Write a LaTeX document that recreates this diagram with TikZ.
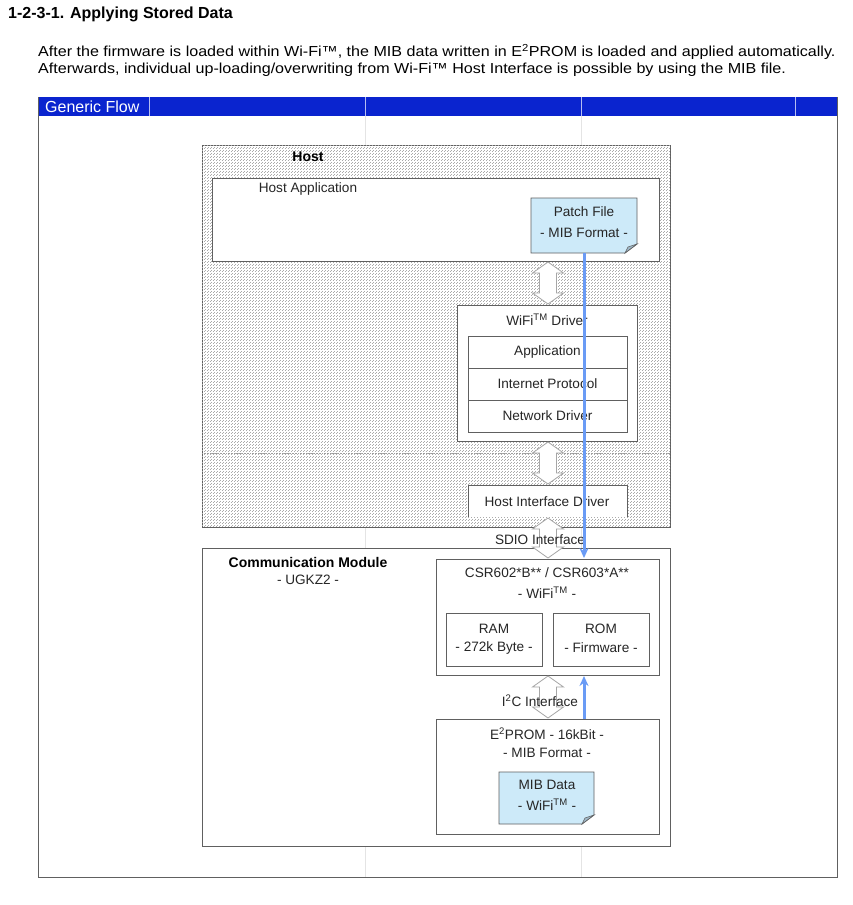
\documentclass[tikz,border=0pt]{standalone}
\usepackage{fontspec}
\setmainfont{Liberation Sans}
\newfontfamily\parafont{Liberation Sans}[FakeStretch=1.11]
\usetikzlibrary{patterns,fit,arrows.meta}
\definecolor{bord}{HTML}{606060}
\definecolor{barblue}{HTML}{0A24CF}
\definecolor{flow}{HTML}{6A9BF5}
\definecolor{note}{HTML}{CDEAF9}
\definecolor{notefold}{HTML}{9FB8C8}
\definecolor{faint}{HTML}{E4E4E4}
\pgfdeclarepatternformonly{hostdots}{\pgfqpoint{0pt}{0pt}}{\pgfqpoint{3pt}{3pt}}{\pgfqpoint{3pt}{3pt}}{%
  \pgfpathrectangle{\pgfqpoint{0pt}{0pt}}{\pgfqpoint{1pt}{1pt}}%
  \pgfpathrectangle{\pgfqpoint{1.5pt}{1.5pt}}{\pgfqpoint{1pt}{1pt}}%
  \pgfusepath{fill}}
\newcommand\hollowarrow[3]{%
  \pgfmathsetmacro\hL{#3-#2}%
  \draw[harrow, shift={(#1,#2)}] (-8.5,11) -- (-15.5,11) -- (0,0) -- (15.5,11) -- (8.5,11)
    -- (8.5,\hL-11) -- (15.5,\hL-11) -- (0,\hL) -- (-15.5,\hL-11) -- (-8.5,\hL-11) -- cycle;}
\begin{document}
\begin{tikzpicture}[x=1pt,y=-1pt,
  box/.style={draw=bord, line width=0.9pt, fill=white, inner sep=0pt, outer sep=0pt},
  area/.style={inner sep=0pt, outer sep=0pt},
  lbl/.style={font=\fontsize{13.6}{15}\selectfont, inner sep=0pt, text=black!85},
  bold/.style={font=\fontsize{14}{15}\selectfont\bfseries, inner sep=0pt},
  para/.style={font=\parafont\fontsize{14.5}{16}\selectfont, inner sep=0pt, anchor=west},
  harrow/.style={draw=gray!70, fill=white, line width=0.8pt, line join=miter},
  flowarrow/.style={draw=flow, line width=3pt, -{Stealth[length=10pt,width=9pt]}},
  notebox/.style={draw=bord, line width=0.8pt, fill=note},
  foldst/.style={draw=bord, line width=0.6pt, fill=notefold}]
\useasboundingbox (0,0) rectangle (852,905);
\fill[white] (0,0) rectangle (852,905);

% title and paragraph
\node[anchor=west, inner sep=0pt, font=\fontsize{16}{18}\selectfont\bfseries] (title) at (8,14) {1-2-3-1. Applying Stored Data};
\node[para] (p1) at (38,52) {After the firmware is loaded within Wi-Fi™, the MIB data written in E\textsuperscript{2}PROM is loaded and applied automatically.};
\node[para] (p2) at (38,70) {Afterwards, individual up-loading/overwriting from Wi-Fi™ Host Interface is possible by using the MIB file.};

% frame and bar
\node[area, fill=barblue, fit={(38,97) (837,116)}] (bar) {};
\draw[white!70!barblue, line width=0.7pt] (149,97) -- (149,116) (365,97) -- (365,116) (581,97) -- (581,116) (795,97) -- (795,116);
\node[anchor=west, inner sep=0pt, text=white, font=\fontsize{16}{18}\selectfont] (gf) at (45,107) {Generic Flow};
\draw[faint, line width=0.7pt] (365,116) -- (365,877) (581,116) -- (581,877);
\draw[bord, line width=1pt] (bar.north west) -- (38,877) -- (837,877) -- (bar.north east);

% host
\node[box, fit={(202,145) (670,527)}, postaction={pattern=hostdots, pattern color=black!33}] (host) {};
\draw[gray!75, densely dotted, line width=0.6pt] (202,453) -- (670,453);
\node[bold] (hostlbl) at (308,157) {Host};
\node[box, fit={(212,178) (659,261)}] (hostapp) {};
\node[lbl] (hostapplbl) at (308,189) {Host Application};

% patch file
\node[area, fit={(531,198) (637,253)}] (patch) {};
\draw[notebox] (patch.north west) -- (patch.north east) -- ([yshift=9pt]patch.south east) -- ([xshift=-12pt]patch.south east) -- (patch.south west) -- cycle;
\draw[foldst] ([yshift=9pt]patch.south east) -- ([xshift=-12pt]patch.south east) -- ([xshift=-9pt,yshift=6pt]patch.south east) -- cycle;
\node[lbl] (patch1) at (584,212) {Patch File};
\node[lbl] (patch2) at (584,233) {- MIB Format -};

% wifi driver
\node[box, fit={(457,305) (637,441)}] (wifi) {};
\node[lbl] (wifilbl) at (547,320) {WiFi\textsuperscript{TM} Driver};
\node[box, fit={(468,336) (627,368)}] (app) {};
\node[box, fit={(468,368) (627,400)}] (ip) {};
\node[box, fit={(468,400) (627,432)}] (nd) {};
\node[lbl] at (app.center) {Application};
\node[lbl] at (ip.center) {Internet Protocol};
\node[lbl] at (nd.center) {Network Driver};

% host interface driver
\node[area, fit={(468,485) (627,517)}] (hid) {};
\fill[white] (hid.north west) rectangle (hid.south east);
\draw[bord, line width=0.9pt] (hid.south west) -- (hid.north west) -- (hid.north east) -- (hid.south east);
\node[lbl] at (547,502) {Host Interface Driver};

% communication module
\node[box, fit={(202,548) (670,846)}] (comm) {};
\node[bold] (commlbl) at (308,562) {Communication Module};
\node[lbl] (commlbl2) at (308,580) {- UGKZ2 -};

\node[box, fit={(436,559) (659,675)}] (csr) {};
\node[lbl] at (547,573) {CSR602*B** / CSR603*A**};
\node[lbl] at (547,593) {- WiFi\textsuperscript{TM} -};
\node[box, fit={(446,613) (542,666)}] (ram) {};
\node[lbl] at (494,629) {RAM};
\node[lbl] at (494,648) {- 272k Byte -};
\node[box, fit={(553,613) (649,666)}] (rom) {};
\node[lbl] at (601,629) {ROM};
\node[lbl] at (601,648) {- Firmware -};

\node[box, fit={(436,719) (659,834)}] (eeprom) {};
\node[lbl] at (547,734) {E\textsuperscript{2}PROM - 16kBit -};
\node[lbl] at (547,753) {- MIB Format -};

\node[area, fit={(499,772) (594,824)}] (mib) {};
\draw[notebox] (mib.north west) -- (mib.north east) -- ([yshift=9pt]mib.south east) -- ([xshift=-12pt]mib.south east) -- (mib.south west) -- cycle;
\draw[foldst] ([yshift=9pt]mib.south east) -- ([xshift=-12pt]mib.south east) -- ([xshift=-9pt,yshift=6pt]mib.south east) -- cycle;
\node[lbl] at (547,785) {MIB Data};
\node[lbl] at (547,805) {- WiFi\textsuperscript{TM} -};

% hollow interface arrows
\hollowarrow{548}{262}{304}
\hollowarrow{548}{442}{484}
\hollowarrow{548}{518}{558}
\hollowarrow{548}{676}{718}
\node[lbl] (sdio) at (540,540) {SDIO Interface};
\node[lbl] (i2c) at (540,701) {I\textsuperscript{2}C Interface};

% data flow arrows
\draw[flowarrow] (patch.south) -- ([yshift=1pt]csr.north -| patch.south);
\draw[flowarrow] (eeprom.north -| patch.south) -- ([yshift=-1pt]csr.south -| patch.south);
\end{tikzpicture}
\end{document}
